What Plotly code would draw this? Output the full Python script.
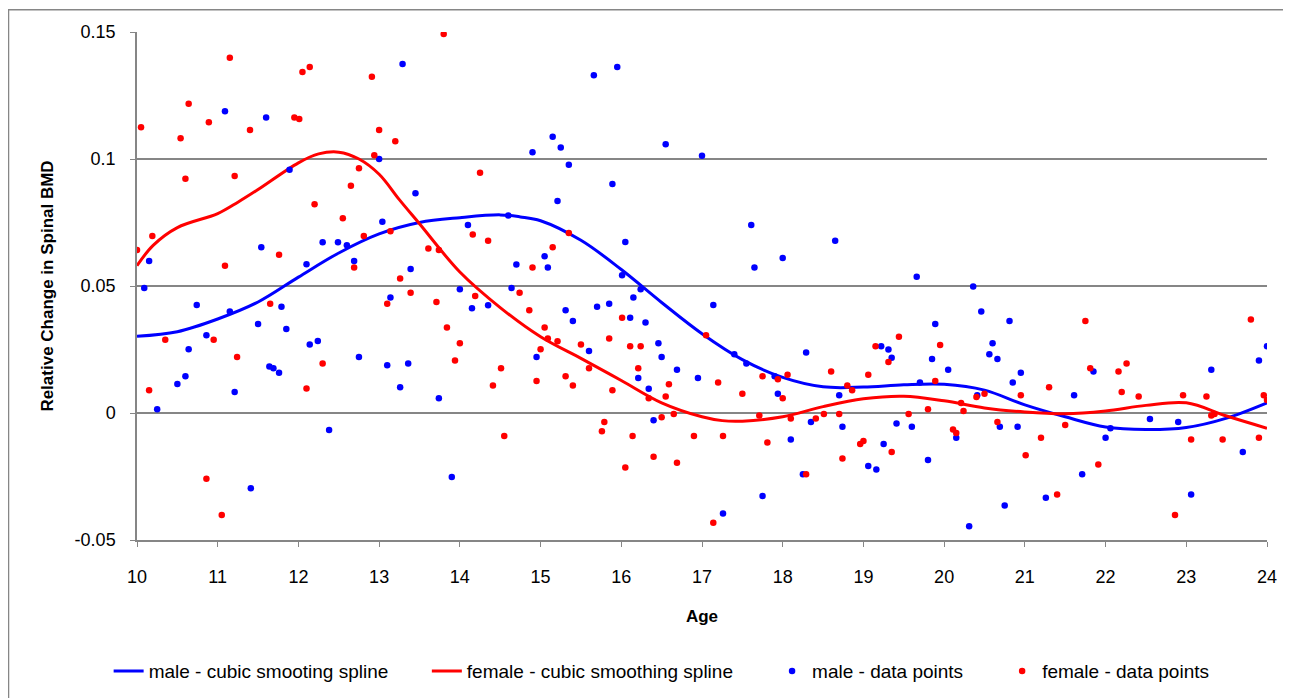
import plotly.graph_objects as go

# ---- data ----
male_age = [10.09, 10.15, 10.25, 10.50, 10.60, 10.64, 10.74, 10.86, 11.09, 11.15, 11.21, 11.41, 11.50, 11.54,
            11.60, 11.64, 11.69, 11.76, 11.79, 11.85, 11.89, 12.10, 12.14, 12.24, 12.30, 12.38, 12.49, 12.60,
            12.69, 12.75, 13.00, 13.04, 13.10, 13.14, 13.26, 13.29, 13.36, 13.39, 13.45, 13.74, 13.90, 14.00,
            14.10, 14.15, 14.35, 14.60, 14.64, 14.70, 14.90, 14.95, 15.05, 15.09, 15.15, 15.21, 15.25, 15.31,
            15.35, 15.40, 15.60, 15.66, 15.70, 15.85, 15.89, 15.95, 16.01, 16.05, 16.11, 16.15, 16.21, 16.24,
            16.30, 16.34, 16.40, 16.46, 16.50, 16.55, 16.69, 16.95, 17.00, 17.14, 17.26, 17.40, 17.55, 17.61,
            17.65, 17.75, 17.90, 17.94, 18.00, 18.10, 18.25, 18.29, 18.35, 18.65, 18.70, 18.74, 19.06, 19.16,
            19.22, 19.25, 19.31, 19.35, 19.41, 19.60, 19.66, 19.70, 19.80, 19.85, 19.89, 20.05, 20.15, 20.31,
            20.36, 20.41, 20.46, 20.56, 20.60, 20.66, 20.69, 20.75, 20.81, 20.85, 20.91, 20.95, 21.26, 21.61,
            21.71, 21.85, 22.00, 22.06, 22.55, 22.90, 23.06, 23.31, 23.70, 23.90, 24.00]
male_val = [0.0492, 0.0598, 0.0015, 0.0114, 0.0145, 0.0251, 0.0425, 0.0306, 0.1188, 0.0400, 0.0083, -0.0296,
            0.0350, 0.0653, 0.1163, 0.0183, 0.0176, 0.0158, 0.0418, 0.0331, 0.0958, 0.0586, 0.0270, 0.0283,
            0.0672, -0.0067, 0.0672, 0.0660, 0.0598, 0.0220, 0.1000, 0.0753, 0.0188, 0.0455, 0.0101, 0.1374,
            0.0195, 0.0567, 0.0865, 0.0058, -0.0252, 0.0487, 0.0740, 0.0412, 0.0424, 0.0778, 0.0492, 0.0585,
            0.1027, 0.0220, 0.0617, 0.0573, 0.1088, 0.0835, 0.1045, 0.0405, 0.0977, 0.0362, 0.0244, 0.1330,
            0.0418, 0.0430, 0.0902, 0.1362, 0.0542, 0.0673, 0.0375, 0.0455, 0.0138, 0.0487, 0.0356, 0.0095,
            -0.0029, 0.0275, 0.0220, 0.1058, 0.0170, 0.0138, 0.1013, 0.0425, -0.0396, 0.0231, 0.0195, 0.0740,
            0.0573, -0.0327, 0.0145, 0.0076, 0.0610, -0.0104, -0.0241, 0.0238, -0.0035, 0.0678, 0.0070,
            -0.0054, -0.0209, -0.0222, 0.0263, -0.0122, 0.0250, 0.0218, -0.0041, -0.0054, 0.0536, 0.0120,
            -0.0185, 0.0213, 0.0350, 0.0170, -0.0097, -0.0446, 0.0498, 0.0070, 0.0400, 0.0231, 0.0275, 0.0213,
            -0.0054, -0.0364, 0.0362, 0.0120, -0.0054, 0.0158, -0.0334, 0.0070, -0.0241, 0.0163, -0.0097,
            -0.0060, -0.0024, -0.0035, -0.0321, 0.0170, -0.0154, 0.0207, 0.0263]

female_age = [10.00, 10.05, 10.15, 10.19, 10.35, 10.54, 10.60, 10.64, 10.86, 10.89, 10.95, 11.05, 11.09, 11.15,
              11.21, 11.24, 11.40, 11.65, 11.76, 11.95, 12.01, 12.05, 12.10, 12.14, 12.20, 12.30, 12.55, 12.65,
              12.69, 12.75, 12.81, 12.91, 12.94, 13.00, 13.10, 13.14, 13.20, 13.26, 13.39, 13.61, 13.71, 13.74,
              13.80, 13.84, 13.94, 14.00, 14.16, 14.19, 14.25, 14.35, 14.41, 14.51, 14.55, 14.74, 14.86, 14.90,
              14.95, 15.00, 15.05, 15.09, 15.15, 15.21, 15.31, 15.35, 15.40, 15.50, 15.60, 15.76, 15.79, 15.85,
              15.89, 16.01, 16.05, 16.11, 16.14, 16.21, 16.24, 16.34, 16.40, 16.50, 16.55, 16.59, 16.65, 16.69,
              16.90, 17.05, 17.14, 17.20, 17.26, 17.50, 17.71, 17.75, 17.81, 17.94, 18.00, 18.06, 18.10, 18.29,
              18.41, 18.51, 18.60, 18.70, 18.74, 18.80, 18.86, 18.96, 19.00, 19.06, 19.15, 19.31, 19.35, 19.44,
              19.56, 19.80, 19.89, 19.95, 20.11, 20.15, 20.21, 20.24, 20.40, 20.50, 20.66, 20.95, 21.01, 21.20,
              21.30, 21.40, 21.50, 21.75, 21.81, 21.91, 22.16, 22.20, 22.26, 22.41, 22.86, 22.96, 23.06, 23.25,
              23.31, 23.35, 23.45, 23.80, 23.90, 23.96, 24.00]
female_val = [0.0642, 0.1125, 0.0090, 0.0697, 0.0288, 0.1082, 0.0922, 0.1218, -0.0259, 0.1145, 0.0288, -0.0402,
              0.0580, 0.1399, 0.0933, 0.0220, 0.1114, 0.0430, 0.0623, 0.1163, 0.1157, 0.1343, 0.0096, 0.1362,
              0.0822, 0.0195, 0.0767, 0.0895, 0.0573, 0.0964, 0.0697, 0.1324, 0.1015, 0.1114, 0.0430, 0.0716,
              0.1070, 0.0530, 0.0473, 0.0648, 0.0437, 0.0642, 0.1492, 0.0337, 0.0207, 0.0275, 0.0703, 0.0461,
              0.0946, 0.0678, 0.0108, 0.0176, -0.0091, 0.0473, 0.0405, 0.0573, 0.0126, 0.0251, 0.0337, 0.0293,
              0.0653, 0.0282, 0.0145, 0.0709, 0.0108, 0.0270, 0.0176, -0.0072, -0.0035, 0.0293, 0.0090, 0.0375,
              -0.0215, 0.0263, -0.0091, 0.0176, 0.0263, 0.0058, -0.0172, -0.0017, 0.0065, 0.0113, -0.0004,
              -0.0196, -0.0091, 0.0306, -0.0432, 0.0120, -0.0091, 0.0076, -0.0010, 0.0145, -0.0116, 0.0133,
              0.0058, 0.0151, -0.0022, -0.0241, -0.0022, -0.0004, 0.0163, -0.0004, -0.0179, 0.0108, 0.0090,
              -0.0122, -0.0110, 0.0151, 0.0263, 0.0201, -0.0154, 0.0300, -0.0004, 0.0015, 0.0126, 0.0268,
              -0.0065, -0.0079, 0.0039, 0.0008, 0.0063, 0.0076, -0.0035, 0.0070, -0.0166, -0.0097, 0.0101,
              -0.0321, -0.0047, 0.0362, 0.0176, -0.0203, 0.0163, 0.0083, 0.0195, 0.0065, -0.0402, 0.0070,
              -0.0104, 0.0065, -0.0010, -0.0004, -0.0104, 0.0368, -0.0097, 0.0070, 0.0051]

spline_age = [10.0, 10.5, 11.0, 11.5, 12.0, 12.5, 13.0, 13.5, 14.0, 14.5, 14.75, 15.0, 15.5, 16.0, 16.5, 17.0,
              17.5, 18.0, 18.5, 19.0, 19.5, 20.0, 20.5, 21.0, 21.5, 22.0, 22.5, 23.0, 23.5, 24.0]
male_spline = [0.0302, 0.0320, 0.0370, 0.0437, 0.0535, 0.0630, 0.0705, 0.0750, 0.0769, 0.0780, 0.0772, 0.0757,
               0.0680, 0.0565, 0.0435, 0.0312, 0.0210, 0.0140, 0.0103, 0.0102, 0.0111, 0.0113, 0.0090, 0.0032,
               -0.0015, -0.0055, -0.0065, -0.0057, -0.0020, 0.0040]

f_spline_age = [10.0, 10.2, 10.5, 11.0, 11.25, 11.5, 12.0, 12.25, 12.5, 12.75, 13.0, 13.25, 13.5, 14.0, 14.5,
                15.0, 15.5, 16.0, 16.5, 17.0, 17.25, 17.5, 18.0, 18.5, 19.0, 19.5, 20.0, 20.5, 21.0, 21.5,
                22.0, 22.5, 23.0, 23.5, 24.0]
female_spline = [0.0580, 0.0660, 0.0730, 0.0785, 0.0830, 0.0880, 0.0985, 0.1020, 0.1027, 0.1000, 0.0940,
                 0.0840, 0.0745, 0.0555, 0.0415, 0.0300, 0.0215, 0.0128, 0.0040, -0.0015, -0.0030, -0.0032,
                 -0.0015, 0.0025, 0.0056, 0.0066, 0.0048, 0.0020, 0.0004, -0.0003, 0.0008, 0.0030, 0.0040,
                 -0.0012, -0.0060]

y_ticks = [-0.05, 0, 0.05, 0.1, 0.15]
y_tick_text = ["-0.05", "0", "0.05", "0.1", "0.15"]
x_ticks = list(range(10, 25))

FONT = "Liberation Sans, Arial, sans-serif"
BLUE = "#0000FF"
RED = "#FF0000"
GRID = "#868686"

fig = go.Figure()
fig.add_trace(go.Scatter(x=spline_age, y=male_spline, mode="lines", name="male - cubic smooting spline",
                         line=dict(color=BLUE, width=3, shape="spline"), legend="legend"))
fig.add_trace(go.Scatter(x=f_spline_age, y=female_spline, mode="lines", name="female - cubic smoothing spline",
                         line=dict(color=RED, width=3, shape="spline"), legend="legend2"))
fig.add_trace(go.Scatter(x=male_age, y=male_val, mode="markers", name="male - data points",
                         marker=dict(color=BLUE, size=6.5), legend="legend3"))
fig.add_trace(go.Scatter(x=female_age, y=female_val, mode="markers", name="female - data points",
                         marker=dict(color=RED, size=6.5), legend="legend4"))

LEG_Y = -0.258
def leg(xpos):
    return dict(orientation="h", x=xpos, xanchor="left", y=LEG_Y, yanchor="middle",
                font=dict(family=FONT, size=19, color="black"), bgcolor="rgba(0,0,0,0)")

fig.update_layout(
    width=1283, height=690,
    margin=dict(l=129, r=24, t=24, b=158, autoexpand=False),
    paper_bgcolor="white", plot_bgcolor="white",
    font=dict(family=FONT, size=18, color="black"),
    showlegend=True,
    legend=leg(-0.0251), legend2=leg(0.2565), legend3=leg(0.5620), legend4=leg(0.7656),
    xaxis=dict(range=[10, 24], tickvals=x_ticks, ticks="outside", ticklen=5, tickcolor=GRID,
               showline=True, linecolor=GRID, linewidth=1.5, showgrid=False, zeroline=False,
               tickfont=dict(size=18), ticklabelstandoff=15,
               title=dict(text="<b>Age</b>", font=dict(size=17), standoff=24)),
    yaxis=dict(range=[-0.05, 0.15], tickvals=y_ticks, ticktext=y_tick_text, ticks="outside", ticklen=5,
               tickcolor=GRID, showline=True, linecolor=GRID, linewidth=1.5, showgrid=True,
               gridcolor=GRID, gridwidth=1.5, zeroline=False, tickfont=dict(size=18),
               ticklabelstandoff=11,
               title=dict(text="<b>Relative Change in Spinal BMD</b>", font=dict(size=17), standoff=17)),
)
fig.add_shape(type="rect", xref="paper", yref="paper", x0=-0.1137, x1=1.06, y0=-0.40, y1=1.044,
              line=dict(color=GRID, width=1.5), fillcolor="rgba(0,0,0,0)", layer="below")

fig.write_html("out.html")
